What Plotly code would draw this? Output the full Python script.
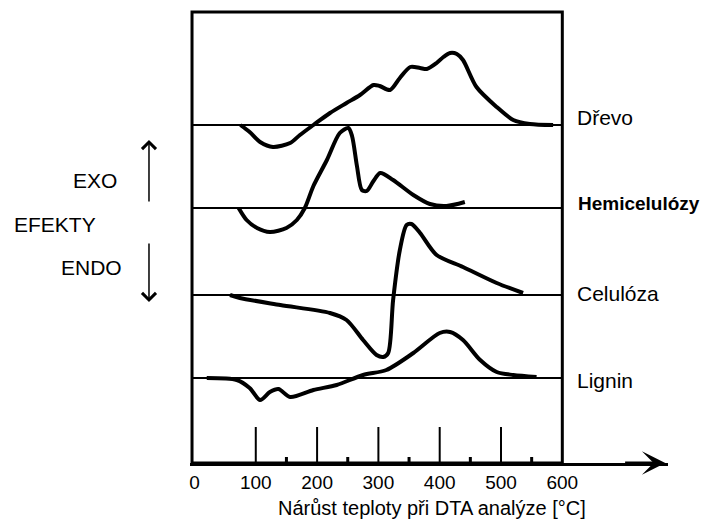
import plotly.graph_objects as go

# DTA curves: temperature [°C] and signal (arbitrary units, + exo / - endo)
drevo_t = [75, 90, 107, 128, 156, 172, 194, 221, 248, 270, 292, 302, 319, 335,
           352, 368, 379, 395, 406, 417, 428, 438, 460, 493, 520, 547, 585]
drevo_v = [0, -7, -17, -22, -18, -10, 0, 12, 22, 30, 40, 39, 35, 47,
           58, 57, 56, 62, 68, 72, 71, 65, 38, 18, 5, 1, 0]

hemi_t = [72, 85, 102, 123, 150, 167, 180, 194, 216, 237, 251, 257, 265, 273,
          281, 292, 303, 324, 357, 384, 411, 441]
hemi_v = [0, -12, -20, -24, -20, -12, 0, 22, 48, 75, 80, 72, 42, 18,
          17, 27, 35, 28, 13, 4, 2, 6]

cel_t = [58, 74, 140, 221, 248, 275, 297, 308, 316, 324, 335, 346, 354, 368,
         395, 438, 493, 536]
cel_v = [0, -3, -10, -18, -25, -45, -60, -62, -58, -5, 45, 70, 71, 62,
         40, 28, 12, 2]

lig_t = [20, 69, 90, 107, 123, 137, 156, 194, 232, 275, 313, 357, 400, 417,
         438, 466, 493, 520, 558]
lig_v = [0, -2, -10, -22, -14, -11, -19, -12, -7, 3, 8, 25, 45, 46,
         38, 18, 6, 3, 1]

names = ['Dřevo', 'Hemicelulózy', 'Celulóza', 'Lignin']
offsets = [338, 255, 168, 85]   # vertical position of each zero line
major_ticks = [100, 200, 300, 400, 500]
minor_ticks = [150, 250, 350, 450, 550]
tick_labels = [0, 100, 200, 300, 400, 500, 600]

FONT = 'Liberation Sans, Arial, sans-serif'
black = dict(family=FONT, size=21, color='black')

fig = go.Figure()

curves = [(drevo_t, drevo_v), (hemi_t, hemi_v), (cel_t, cel_v), (lig_t, lig_v)]
shapes = []
for (t, v), off in zip(curves, offsets):
    shapes.append(dict(type='line', x0=-4, x1=600, y0=off, y1=off,
                       line=dict(color='black', width=2)))
    fig.add_trace(go.Scatter(x=t, y=[off + val for val in v], mode='lines',
                             line=dict(color='black', width=4, shape='spline',
                                       smoothing=0.8),
                             hoverinfo='skip'))

# frame and tick marks
shapes.append(dict(type='rect', x0=-4, x1=600, y0=0, y1=451,
                   line=dict(color='black', width=3)))
for tv in major_ticks:
    shapes.append(dict(type='line', x0=tv, x1=tv, y0=0, y1=36,
                       line=dict(color='black', width=2)))
for tv in minor_ticks:
    shapes.append(dict(type='line', x0=tv, x1=tv, y0=0, y1=6,
                       line=dict(color='black', width=3)))

annotations = []
label_y = [346, 260, 170, 83]
for name, ly in zip(names, label_y):
    bold = name == 'Hemicelulózy'
    annotations.append(dict(x=622 if bold else 620, y=ly, xref='x', yref='y',
                            text='<b>%s</b>' % name if bold else name,
                            showarrow=False, xanchor='left', yanchor='middle',
                            font=dict(family=FONT, size=19 if bold else 21,
                                      color='black')))

annotations += [
    dict(x=-0.1987, y=0.6247, xref='paper', yref='paper', text='EXO',
         showarrow=False, xanchor='center', font=black),
    dict(x=-0.2824, y=0.5254, xref='paper', yref='paper', text='EFEKTY',
         showarrow=False, xanchor='center', font=black),
    dict(x=-0.2071, y=0.4305, xref='paper', yref='paper', text='ENDO',
         showarrow=False, xanchor='center', font=black),
    # exo / endo arrows
    dict(x=-0.0858, y=0.713, xref='paper', yref='paper', ax=0, ay=63,
         text='', showarrow=True, arrowhead=4, arrowsize=1.8, arrowwidth=1.5,
         arrowcolor='black'),
    dict(x=-0.0858, y=0.3554, xref='paper', yref='paper', ax=0, ay=-60,
         text='', showarrow=True, arrowhead=4, arrowsize=1.8, arrowwidth=1.5,
         arrowcolor='black'),
    # x axis arrow head
    dict(x=768, y=0, ax=700, ay=0, axref='x', ayref='y', xref='x', yref='y',
         text='', showarrow=True, arrowhead=3, arrowsize=1.3, arrowwidth=3,
         arrowcolor='black'),
    dict(x=0.506, y=-0.099, xref='paper', yref='paper', xanchor='center',
         text='Nárůst teploty při DTA analýze [°C]', showarrow=False,
         yanchor='middle', font=dict(family=FONT, size=20, color='black')),
]

# the page has an 8px body margin, so the figure is shrunk by that amount
fig.update_layout(
    width=702, height=515,
    margin=dict(l=182, r=42, t=2, b=60),
    paper_bgcolor='white', plot_bgcolor='white',
    showlegend=False,
    shapes=shapes,
    annotations=annotations,
    xaxis=dict(range=[-7.3, 772.4], showgrid=False, zeroline=False,
               showline=True, linecolor='black', linewidth=3,
               tickvals=tick_labels, ticks='', ticklabelstandoff=0,
               tickfont=dict(family=FONT, size=19, color='black')),
    yaxis=dict(range=[0, 453], showgrid=False, zeroline=False,
               showticklabels=False, showline=False),
)

fig.write_html('out.html')
